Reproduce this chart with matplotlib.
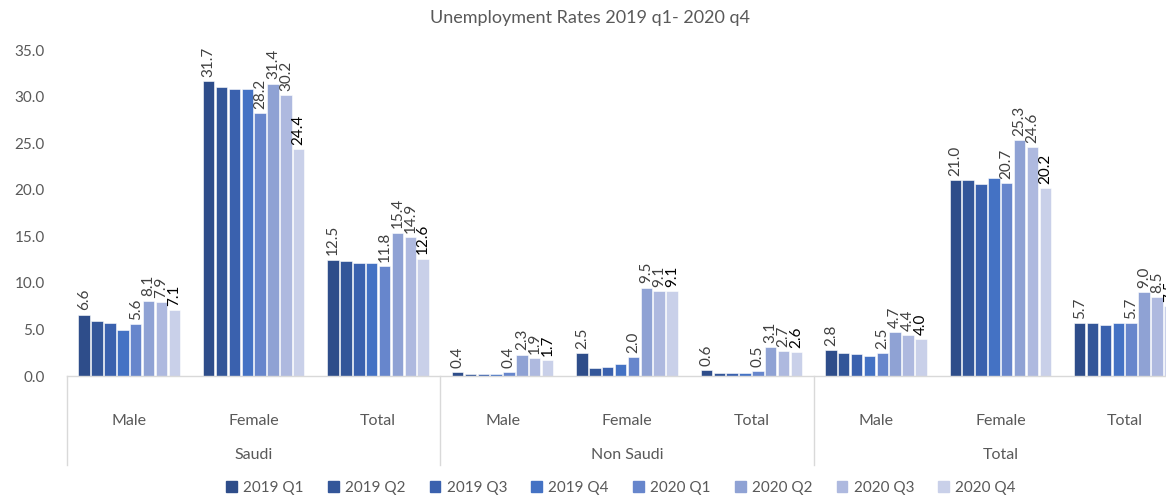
import matplotlib
matplotlib.use("Agg")
import matplotlib.pyplot as plt
import matplotlib.transforms as mtransforms
import numpy as np

plt.rcParams['font.family'] = ['Lato', 'DejaVu Sans']

title = "Unemployment Rates 2019 q1- 2020 q4"
groups = ["Saudi", "Non Saudi", "Total"]
subcats = ["Male", "Female", "Total"]
series = ["2019 Q1", "2019 Q2", "2019 Q3", "2019 Q4", "2020 Q1", "2020 Q2", "2020 Q3", "2020 Q4"]

# values per series, 9 categories: Saudi(M,F,T), Non Saudi(M,F,T), Total(M,F,T)
q2019_1 = [6.6, 31.7, 12.5, 0.4, 2.5, 0.6, 2.8, 21.0, 5.7]
q2019_2 = [5.9, 31.0, 12.3, 0.2, 0.9, 0.3, 2.5, 21.0, 5.7]
q2019_3 = [5.7, 30.8, 12.1, 0.2, 1.0, 0.3, 2.4, 20.6, 5.5]
q2019_4 = [4.9, 30.8, 12.1, 0.2, 1.3, 0.3, 2.2, 21.3, 5.7]
q2020_1 = [5.6, 28.2, 11.8, 0.4, 2.0, 0.5, 2.5, 20.7, 5.7]
q2020_2 = [8.1, 31.4, 15.4, 2.3, 9.5, 3.1, 4.7, 25.3, 9.0]
q2020_3 = [7.9, 30.2, 14.9, 1.9, 9.1, 2.7, 4.4, 24.6, 8.5]
q2020_4 = [7.1, 24.4, 12.6, 1.7, 9.1, 2.6, 4.0, 20.2, 7.5]
values = [q2019_1, q2019_2, q2019_3, q2019_4, q2020_1, q2020_2, q2020_3, q2020_4]
labeled = [True, False, False, False, True, True, True, True]

colors = ['#2E4D8A', '#335699', '#3A61AE', '#4472C4', '#6786CC', '#8FA2D4', '#AEB9DF', '#C9D0E9']
label_colors = ['#404040'] * 7 + ['#000000']

W, H = 1166, 498
fig = plt.figure(figsize=(W / 100, H / 100), dpi=100)
ax_left, ax_right, ax_bottom, ax_top = 67, 1187, 376, 50
ax = fig.add_axes([ax_left / W, 1 - ax_bottom / H, (ax_right - ax_left) / W, (ax_bottom - ax_top) / H])

ncat = len(q2019_1)
centers = np.arange(ncat) + 0.5
slot = 0.1035
bw = 0.092
for i, (vals, col) in enumerate(zip(values, colors)):
    xs = centers + (i - 3.5) * slot
    ax.bar(xs, vals, width=bw, color=col, edgecolor='white', linewidth=0.4, zorder=2)
    if labeled[i]:
        for x, v in zip(xs, vals):
            ax.annotate(f"{v:.1f}", (x, v), xytext=(0, 3), textcoords='offset points',
                        rotation=90, ha='center', va='bottom', fontsize=11,
                        color=label_colors[i], annotation_clip=False)

ax.set_xlim(0, ncat)
ax.set_ylim(0, 35)
ax.set_yticks(np.arange(0, 35.1, 5))
ax.set_yticklabels([f"{t:.1f}" for t in np.arange(0, 35.1, 5)], fontsize=11, color='#595959')
ax.tick_params(axis='y', length=0, pad=16)
ax.set_xticks([])
for s in ['top', 'right', 'left']:
    ax.spines[s].set_visible(False)
ax.spines['bottom'].set_color('#d9d9d9')
ax.spines['bottom'].set_linewidth(1)

trans = mtransforms.blended_transform_factory(ax.transData, fig.transFigure)
y_bottom_line = 1 - 465 / H
y_axis = 1 - ax_bottom / H
for xb in [0, 3, 6, 9]:
    ax.plot([xb, xb], [y_axis, y_bottom_line], transform=trans, color='#d9d9d9',
            linewidth=1, clip_on=False)
for k in range(ncat):
    ax.text(centers[k], 1 - 421 / H, subcats[k % 3], transform=trans, ha='center',
            va='center', fontsize=11.5, color='#595959')
for g in range(3):
    ax.text(3 * g + 1.5, 1 - 455 / H, groups[g], transform=trans, ha='center',
            va='center', fontsize=11.5, color='#595959')

fig.text(590 / W, 1 - 18 / H, title, ha='center', va='center', fontsize=13, color='#595959')

handles = [plt.Rectangle((0, 0), 1, 1, color=c) for c in colors]
fig.legend(handles, series, loc='center', bbox_to_anchor=(621 / W, 1 - 488 / H), ncol=8,
           frameon=False, fontsize=11, handlelength=0.7, handleheight=0.7,
           handletextpad=0.4, columnspacing=1.6, labelcolor='#595959')

fig.savefig("out.png", dpi=100)
